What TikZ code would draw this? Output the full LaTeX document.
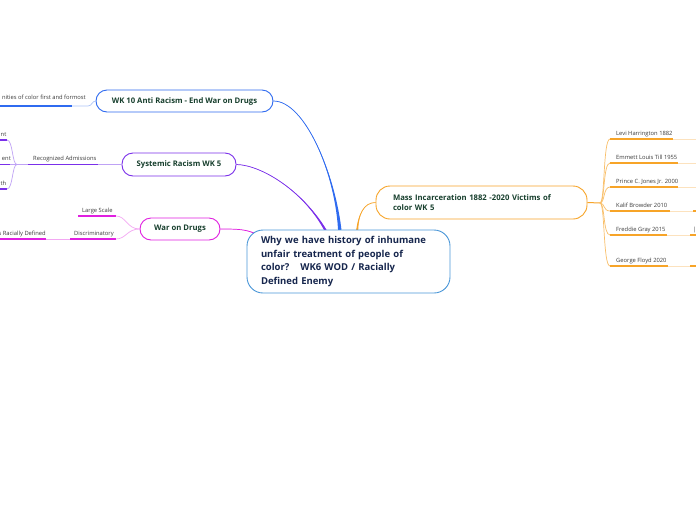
\documentclass[tikz,border=0pt]{standalone}
\usepackage{fontspec}
\setmainfont{Open Sans}
\usetikzlibrary{calc}
\definecolor{cBlue}{HTML}{2F6BF0}
\definecolor{cBlueL}{HTML}{AFC6F8}
\definecolor{cPurp}{HTML}{7A2FEA}
\definecolor{cPurpL}{HTML}{BFA2F5}
\definecolor{cMag}{HTML}{E01FE0}
\definecolor{cMagL}{HTML}{F3A8F3}
\definecolor{cOr}{HTML}{F7A428}
\definecolor{cOrL}{HTML}{FCE2BE}
\definecolor{cCen}{HTML}{4A97D8}
\definecolor{tGreen}{HTML}{173F2D}
\definecolor{tNavy}{HTML}{16264D}
\definecolor{tSub}{HTML}{3A3A3A}
\newcommand\taperline[6]{%
  \fill[#1] #2 .. controls #3 and #4 .. ($#5+(#6,0)$) -- ($#5-(#6,0)$) .. controls #4 and #3 .. #2 -- cycle;
  \draw[#1, line width=0.7pt] #2 .. controls #3 and #4 .. #5;}
\tikzset{
  topic/.style={draw, line width=0.9pt, fill=white, inner sep=0pt, text=tGreen,
    font=\bfseries\fontsize{7.7}{9.5}\selectfont},
  subtxt/.style={inner sep=0pt, text=tSub, font=\fontsize{5.8}{6.5}\selectfont},
  uline/.style={line width=1.3pt},
  thin/.style={line width=0.7pt},
}
\begin{document}
\begin{tikzpicture}[x=1pt,y=-1pt]
\useasboundingbox[fill=white] (0,0) rectangle (696,520);

% ---- main topic nodes
\node[topic, draw=cBlue, rounded corners=11pt, minimum width=177pt, minimum height=22pt] (wk10) at (184.5,101) {WK 10 Anti Racism - End War on Drugs};
\node[topic, draw=cPurp, rounded corners=11pt, minimum width=114pt, minimum height=23pt] (sys) at (179,164.5) {Systemic Racism WK 5};
\node[topic, draw=cMag, rounded corners=11pt, minimum width=80pt, minimum height=22pt] (war) at (180,229) {War on Drugs};
\node[topic, draw=cOr, rounded corners=14pt, minimum width=211pt, minimum height=33pt, text width=177pt, inner xsep=17pt, align=left] (mass) at (481.5,202.5) {Mass Incarceration 1882 -2020 Victims of\\color WK 5};

% ---- connector end coordinates on central topic
\coordinate (bEnd) at (340,233);
\coordinate (pEnd) at (327,233);
\coordinate (oEnd) at (357,233);
\coordinate (mEnd) at (256,234);

\taperline{cBlue}{(wk10.east)}{(305,101)}{(336,175)}{(bEnd)}{1.8}
\taperline{cPurp}{(sys.east)}{(262,165)}{(305,192)}{(pEnd)}{1.4}
\taperline{cOr}{(mass.west)}{(364,202.5)}{(358,214)}{(oEnd)}{1.2}
\taperline{cMag}{(war.east)}{(236,229)}{(246,229)}{(mEnd)}{1.1}

% ---- central topic
\node[draw=cCen, line width=0.9pt, fill=white, rounded corners=16pt, minimum width=203pt, minimum height=63pt,
  text width=175pt, inner xsep=14pt, align=left, text=tNavy,
  font=\bfseries\fontsize{9.5}{13.8}\selectfont] (center) at (348.5,261.5)
  {Why we have history of inhumane\\unfair treatment of people of\\color?\hspace{11pt}WK6 WOD / Racially\\Defined Enemy};

% ---- WK10 subtopic
\coordinate (w1a) at (0,106);
\coordinate (w1b) at (72,106);
\coordinate (w1c) at (88,106);
\node[subtxt, anchor=base east] (w1t) at (86,99.5) {nities of color first and formost};
\draw[cBlue, uline] (w1a) -- (w1b);
\draw[cBlueL, thin] (w1b) -- (w1c) .. controls (92,106) and (92,101) .. (wk10.west);

% ---- Systemic racism subtopics
\coordinate (shub) at (17,164.5);
\coordinate (s1a) at (28,164.5);
\coordinate (s1b) at (98,164.5);
\node[subtxt, anchor=base west] (s1t) at (33,160.5) {Recognized Admissions};
\draw[cPurp, uline] (s1a) -- (s1b);
\draw[cPurpL, thin] (s1b) -- (sys.west);
\draw[cPurpL, thin] (shub) -- (s1a);
\coordinate (s2a) at (0,140);   \coordinate (s2b) at (7,140);
\coordinate (s3a) at (0,164.5); \coordinate (s3b) at (10,164.5);
\coordinate (s4a) at (0,189);   \coordinate (s4b) at (7,189);
\node[subtxt, anchor=base east] (s2t) at (6.5,136) {nt};
\node[subtxt, anchor=base east] (s3t) at (11,160.5) {ent};
\node[subtxt, anchor=base east] (s4t) at (6.5,185) {th};
\draw[cPurp, uline] (s2a) -- (s2b);
\draw[cPurp, uline] (s3a) -- (s3b);
\draw[cPurp, uline] (s4a) -- (s4b);
\draw[cPurpL, thin] (s2b) .. controls (13,140) and (12,164.5) .. (shub);
\draw[cPurpL, thin] (s3b) -- (shub);
\draw[cPurpL, thin] (s4b) .. controls (13,189) and (12,164.5) .. (shub);

% ---- War on drugs subtopics
\coordinate (d1a) at (78,216);  \coordinate (d1b) at (116,216);
\coordinate (d2a) at (70,239);  \coordinate (d2b) at (116,239);
\node[subtxt, anchor=base west] (d1t) at (82,212) {Large Scale};
\node[subtxt, anchor=base west] (d2t) at (74,235) {Discriminatory};
\draw[cMag, uline] (d1a) -- (d1b);
\draw[cMag, uline] (d2a) -- (d2b);
\draw[cMagL, thin] (d1b) .. controls (126,216) and (127,229) .. (war.west);
\draw[cMagL, thin] (d2b) .. controls (126,239) and (127,229) .. (war.west);
\coordinate (d3a) at (0,239);   \coordinate (d3b) at (46,239);
\node[subtxt, anchor=base east] (d3t) at (46,235) {s Racially Defined};
\draw[cMag, uline] (d3a) -- (d3b);
\draw[cMagL, thin] (d3b) -- (d2a);

% ---- Mass incarceration subtopics
\coordinate (mhub) at (600,203);
\draw[cOr, line width=1pt] (mass.east) -- (mhub);
\foreach \n/\t/\y/\e in {1/Levi Harrington 1882/139/673, 2/Emmett Louis Till 1955/163/678,
    3/Prince C. Jones Jr. 2000/187/678, 4/Kalif Browder 2010/211/670,
    5/Freddie Gray 2015/235/667, 6/George Floyd 2020/266/668}{
  \coordinate (v\n a) at (610,\y);
  \coordinate (v\n b) at (\e,\y);
  \coordinate (v\n c) at (696,\y);
  \node[subtxt, anchor=base west] (v\n t) at (616,\y-4) {\t};
  \draw[cOr!70, thin] (mhub) .. controls (605,203) and (603,\y) .. (v\n a);
  \draw[cOr, uline] (v\n a) -- (v\n b);
  \draw[cOrL, thin] (v\n b) -- (v\n c);
}
\coordinate (v4d) at (693,211); \draw[cOr, uline] (v4d) -- (v4c);
\coordinate (v5d) at (690,235); \draw[cOr, uline] (v5d) -- (v5c);
\coordinate (v6d) at (690,266); \draw[cOr, uline] (v6d) -- (v6c);
\node[subtxt, anchor=base west] (v5x) at (693,231) {|};
\end{tikzpicture}
\end{document}
